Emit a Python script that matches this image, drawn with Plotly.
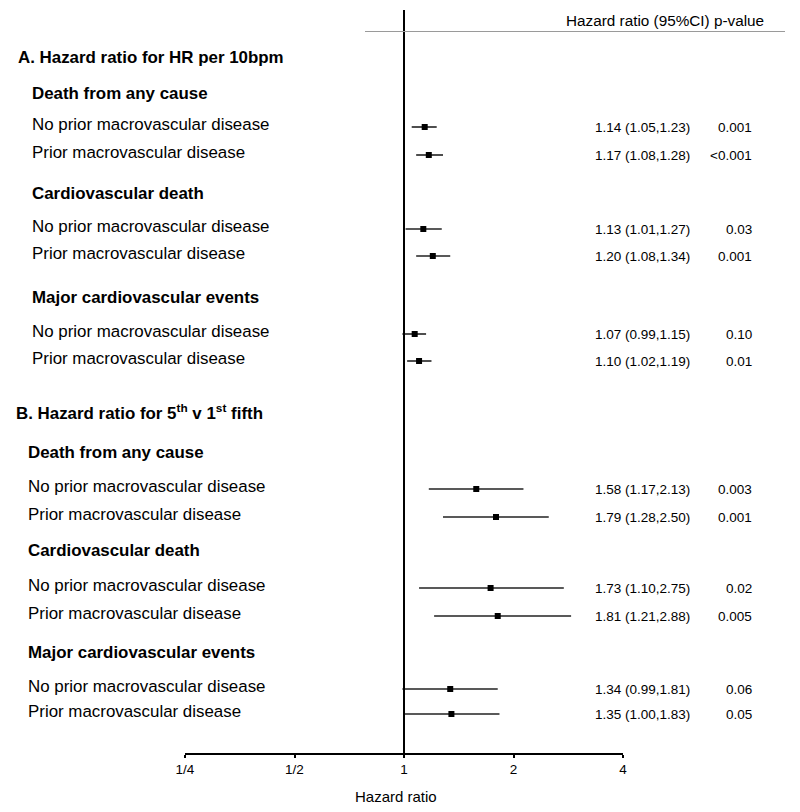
import plotly.graph_objects as go

# ---------------- data ----------------
section_titles = ["A. Hazard ratio for HR per 10bpm",
                  "B. Hazard ratio for 5<sup>th</sup> v 1<sup>st</sup> fifth"]
outcomes = ["Death from any cause", "Cardiovascular death", "Major cardiovascular events"]
groups = ["No prior macrovascular disease", "Prior macrovascular disease"]

hr = [1.14, 1.17, 1.13, 1.20, 1.07, 1.10,
      1.58, 1.79, 1.73, 1.81, 1.34, 1.35]
lo = [1.05, 1.08, 1.01, 1.08, 0.99, 1.02,
      1.17, 1.28, 1.10, 1.21, 0.99, 1.00]
hi = [1.23, 1.28, 1.27, 1.34, 1.15, 1.19,
      2.13, 2.50, 2.75, 2.88, 1.81, 1.83]
pvals = ["0.001", "<0.001", "0.03", "0.001", "0.10", "0.01",
         "0.003", "0.001", "0.02", "0.005", "0.06", "0.05"]

tick_vals = [0.25, 0.5, 1, 2, 4]
tick_text = ["1/4", "1/2", "1", "2", "4"]
x_title = "Hazard ratio"
header = "Hazard ratio (95%CI) p-value"

# ---------------- layout (vertical positions in plot units = page pixels) ----------------
row_y = [127, 155, 229, 256, 334, 361,
         489, 517, 588, 616, 689, 714]
section_y = [57, 412]
outcome_y = [93, 193, 297, 452, 550, 652]

OFF = 8                    # default body margin of the html page
W, H = 800 - OFF, 812 - OFF
L, R = 185, 623            # plot area left / right (page pixels)
TOP, BOT = 10, 753         # plot area top / bottom (page pixels)


def px(xpix):
    return (xpix - L) / (R - L)


def py(ypix):
    return (BOT - ypix) / (BOT - TOP)


FONT = "Arial, Liberation Sans, sans-serif"

fig = go.Figure()
fig.add_trace(go.Scatter(
    x=hr, y=row_y, mode="markers",
    marker=dict(symbol="square", size=6, color="black"),
    error_x=dict(type="data", symmetric=False,
                 array=[h - m for h, m in zip(hi, hr)],
                 arrayminus=[m - l for m, l in zip(hr, lo)],
                 width=0, thickness=1.6, color="#222222"),
    hoverinfo="skip", showlegend=False))

ann = []
# header
ann.append(dict(text=header, x=px(766), xanchor="right",
                y=20, font=dict(size=15.3)))
# section titles
for i, (t, yy) in enumerate(zip(section_titles, section_y)):
    ann.append(dict(text="<b>" + t + "</b>", x=px(16 if i == 0 else 14), xanchor="left",
                    y=yy, font=dict(size=16.9)))
# outcome headers
for k, yy in enumerate(outcome_y):
    ann.append(dict(text="<b>" + outcomes[k % 3] + "</b>",
                    x=px(30 if k < 3 else 26), xanchor="left", y=yy, font=dict(size=16.9)))
# rows
for i, yy in enumerate(row_y):
    ann.append(dict(text=groups[i % 2], x=px(30 if i < 6 else 26), xanchor="left",
                    y=yy, yshift=3, font=dict(size=16.9)))
    ann.append(dict(text=f"{hr[i]:.2f} ({lo[i]:.2f},{hi[i]:.2f})", x=px(692),
                    xanchor="right", y=yy, font=dict(size=13.5)))
    ann.append(dict(text=pvals[i], x=px(754), xanchor="right", y=yy,
                    font=dict(size=13.5)))

for a in ann:
    a.update(xref="paper", yref="y", showarrow=False, yanchor="middle")
    a["font"].update(family=FONT, color="black")

# x-axis title (slightly left of centre, as in the reference)
ann.append(dict(text=x_title, xref="paper", yref="paper", x=px(396), y=py(796),
                xanchor="center", yanchor="middle", showarrow=False,
                font=dict(size=15, family=FONT, color="black")))

fig.update_layout(
    width=W, height=H,
    margin=dict(l=L - OFF, r=W - (R - OFF), t=TOP - OFF, b=H - (BOT - OFF), pad=0),
    paper_bgcolor="white", plot_bgcolor="white",
    font=dict(family=FONT, color="black"),
    annotations=ann,
    shapes=[
        dict(type="line", xref="x", yref="paper", x0=1, x1=1, y0=0, y1=1,
             line=dict(color="black", width=2)),
        dict(type="line", xref="paper", yref="y", x0=px(365), x1=px(785), y0=31.5, y1=31.5,
             line=dict(color="#9a9a9a", width=1.2)),
    ],
    xaxis=dict(type="log", range=[-0.60206, 0.60206], tickvals=tick_vals, ticktext=tick_text,
               showline=True, linecolor="black", linewidth=1.5, ticks="outside",
               ticklen=3, tickwidth=1.5, tickcolor="black", showgrid=False, zeroline=False,
               tickfont=dict(size=13.5, family=FONT)),
    yaxis=dict(range=[BOT, TOP], visible=False, showgrid=False, zeroline=False),
)

fig.write_html("out.html")
